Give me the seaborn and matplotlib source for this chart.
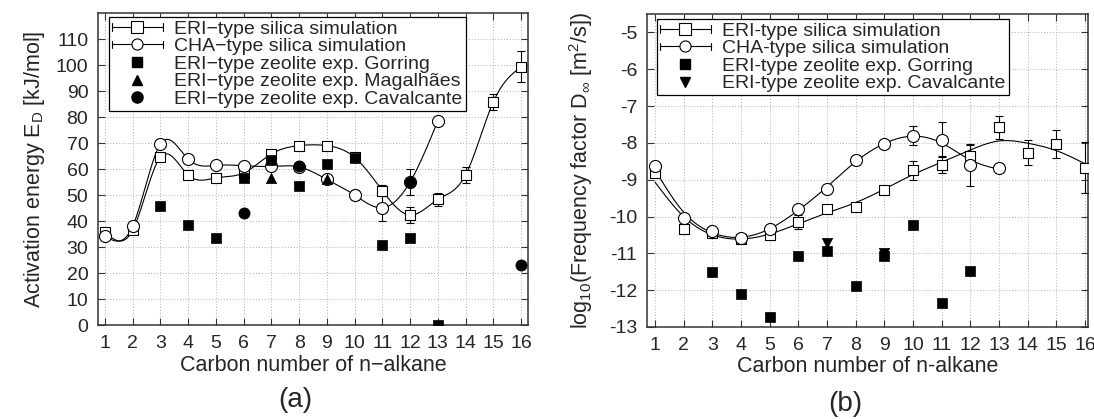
import numpy as np
import matplotlib
matplotlib.use("Agg")
import matplotlib.pyplot as plt
from matplotlib.lines import Line2D
from matplotlib.legend_handler import HandlerBase
import seaborn as sns

# ---------------- data ----------------
carbon = np.arange(1, 17)

# (a) activation energy [kJ/mol]
eri_sim_E = [35.6, 36.5, 64.6, 57.7, 56.6, 58.5, 65.8, 69.0, 69.0, 64.5, 51.7, 42.3, 48.3, 57.7, 85.8, 99.3]
eri_sim_E_err = [0.8, 0.5, 0.8, 0.6, 0.6, 0.6, 0.8, 0.6, 0.6, 1.5, 2.0, 3.0, 2.5, 3.0, 3.0, 6.0]
cha_x = np.arange(1, 14)
cha_sim_E = [34.2, 38.0, 69.6, 63.8, 61.4, 61.3, 61.0, 60.8, 56.0, 50.0, 45.1, 55.0, 78.5]
cha_sim_E_err = [0.5, 0.5, 0.6, 0.6, 0.5, 0.5, 0.5, 0.6, 1.0, 2.0, 5.0, 5.0, 0.6]
gorring_x_a = [3, 4, 5, 6, 7, 8, 9, 10, 11, 12, 13]
gorring_E = [45.8, 38.5, 33.6, 56.6, 63.5, 53.5, 62.0, 64.3, 30.8, 33.6, 0.0]
magalhaes_x = [7, 9]
magalhaes_E = [56.5, 56.0]
cavalcante_x_a = [6, 8, 12, 16]
cavalcante_E = [43.0, 61.0, 55.1, 23.1]

# (b) log10 of frequency factor [m2/s]
eri_sim_D = [-8.81, -10.35, -10.46, -10.6, -10.5, -10.15, -9.8, -9.74, -9.28, -8.74, -8.6, -8.36, -7.58, -8.27, -8.03, -8.67]
eri_sim_D_err = [0.05, 0.04, 0.04, 0.05, 0.12, 0.18, 0.04, 0.04, 0.05, 0.26, 0.23, 0.3, 0.32, 0.34, 0.38, 0.7]
cha_sim_D = [-8.64, -10.03, -10.39, -10.57, -10.35, -9.8, -9.24, -8.47, -8.03, -7.8, -7.91, -8.61, -8.67]
cha_sim_D_err = [0.04, 0.04, 0.04, 0.04, 0.04, 0.05, 0.04, 0.04, 0.04, 0.26, 0.48, 0.57, 0.04]
gorring_x_b = [3, 4, 5, 6, 7, 8, 9, 10, 11, 12]
gorring_D = [-11.52, -12.1, -12.73, -11.07, -10.93, -11.9, -11.07, -10.24, -12.35, -11.48]
cavalcante_x_b = [7, 9]
cavalcante_D = [-10.72, -10.98]


def spline(x, y, lam, xs):
    # natural cubic (smoothing) spline, Reinsch form; lam=0 -> interpolation
    x = np.asarray(x, float)
    y = np.asarray(y, float)
    n = len(x)
    h = np.diff(x)
    Q = np.zeros((n, n - 2))
    R = np.zeros((n - 2, n - 2))
    for j in range(1, n - 1):
        Q[j - 1, j - 1] = 1 / h[j - 1]
        Q[j, j - 1] = -1 / h[j - 1] - 1 / h[j]
        Q[j + 1, j - 1] = 1 / h[j]
        R[j - 1, j - 1] = (h[j - 1] + h[j]) / 3
        if j < n - 2:
            R[j - 1, j] = R[j, j - 1] = h[j] / 6
    K = Q @ np.linalg.solve(R, Q.T)
    g = np.linalg.solve(np.eye(n) + lam * K, y)
    gam = np.concatenate([[0], np.linalg.solve(R, Q.T @ g), [0]])
    i = np.clip(np.searchsorted(x, xs) - 1, 0, n - 2)
    a = x[i + 1] - xs
    b = xs - x[i]
    hi = h[i]
    return (b * g[i + 1] + a * g[i]) / hi - a * b / 6 * ((1 + a / hi) * gam[i] + (1 + b / hi) * gam[i + 1])


class CapLineHandler(HandlerBase):
    # gnuplot style key sample: line with end caps and an open marker
    def __init__(self, marker):
        super().__init__()
        self.marker = marker

    def create_artists(self, legend, orig_handle, xdescent, ydescent, width, height, fontsize, trans):
        x0, x1 = -xdescent, -xdescent + width
        yc = (height - ydescent) / 2
        c = 0.28 * height
        arts = [Line2D([x0, x1], [yc, yc], color='black', lw=0.8),
                Line2D([x0, x0], [yc - c, yc + c], color='black', lw=0.8),
                Line2D([x1, x1], [yc - c, yc + c], color='black', lw=0.8),
                Line2D([(x0 + x1) / 2], [yc], marker=self.marker, ms=8, mfc='white',
                       mec='black', mew=0.8, ls='none')]
        for a in arts:
            a.set_transform(trans)
        return arts


sns.set_theme(style='ticks')
plt.rcParams['font.family'] = ['Liberation Sans', 'DejaVu Sans']
plt.rcParams['mathtext.fontset'] = 'custom'
plt.rcParams['mathtext.rm'] = 'Liberation Sans'
plt.rcParams['mathtext.it'] = 'Liberation Sans'

fig = plt.figure(figsize=(10.94, 4.19), dpi=100)
ax1 = fig.add_axes([0.0896, 0.2243, 0.393, 0.7446])
ax2 = fig.add_axes([0.5914, 0.2196, 0.4031, 0.747])


def draw_sim(ax, x, y, err, lam, marker, size):
    xs = np.linspace(x[0], x[-1], 500)
    sns.lineplot(x=xs, y=spline(x, y, lam, xs), color='black', lw=0.8, ax=ax, zorder=3)
    ax.errorbar(x, y, yerr=err, fmt='none', ecolor='black', elinewidth=0.8, capsize=3, capthick=0.8, zorder=3)
    sns.scatterplot(x=x, y=y, marker=marker, s=size, color='white', edgecolor='black', linewidth=0.8,
                    ax=ax, zorder=4)


def draw_exp(ax, x, y, marker, size):
    sns.scatterplot(x=x, y=y, marker=marker, s=size, color='black', edgecolor='black', linewidth=0.5,
                    ax=ax, zorder=5)


# ---- (a) ----
draw_sim(ax1, carbon, eri_sim_E, eri_sim_E_err, 0.0, 's', 58)
draw_sim(ax1, cha_x, cha_sim_E, cha_sim_E_err, 0.0, 'o', 75)
draw_exp(ax1, gorring_x_a, gorring_E, 's', 48)
draw_exp(ax1, magalhaes_x, magalhaes_E, '^', 55)
draw_exp(ax1, cavalcante_x_a, cavalcante_E, 'o', 65)
ax1.set_ylim(0, 120)
ax1.set_yticks(np.arange(0, 111, 10))
ax1.set_xlim(0.75, 16.25)
ax1.set_ylabel('Activation energy E$_\\mathrm{D}$ [kJ/mol]', fontsize=15.5, labelpad=6)
ax1.set_xlabel('Carbon number of n\u2212alkane', fontsize=15.5, labelpad=2)

# ---- (b) ----
draw_sim(ax2, carbon, eri_sim_D, eri_sim_D_err, 0.45, 's', 58)
draw_sim(ax2, cha_x, cha_sim_D, cha_sim_D_err, 0.12, 'o', 75)
draw_exp(ax2, gorring_x_b, gorring_D, 's', 48)
draw_exp(ax2, cavalcante_x_b, cavalcante_D, 'v', 55)
ax2.set_ylim(-13, -4.5)
ax2.set_yticks(np.arange(-13, -4.9, 1))
ax2.set_yticklabels([str(v) for v in range(-13, -4)])
ax2.set_xlim(0.72, 16.1)
ax2.set_ylabel('log$_{10}$(Frequency factor D$_\\infty$ [m$^2$/s])', fontsize=15.5, labelpad=10)
ax2.set_xlabel('Carbon number of n-alkane', fontsize=15.5, labelpad=2)

for ax in (ax1, ax2):
    ax.set_xticks(carbon)
    ax.grid(True, color='#b0b0b0', ls=(0, (1, 2)), lw=0.7)
    ax.tick_params(direction='in', length=5, width=0.8, top=True, right=True,
                   labelsize=14, pad=7, color='#333333')
    for s in ax.spines.values():
        s.set_color('#333333')
        s.set_linewidth(1.1)

sim_handles = [Line2D([], []), Line2D([], [])]
hmap = {sim_handles[0]: CapLineHandler('s'), sim_handles[1]: CapLineHandler('o')}
sq = Line2D([], [], marker='s', ms=7, color='black', ls='none')
tri = Line2D([], [], marker='^', ms=7.5, color='black', ls='none')
dot = Line2D([], [], marker='o', ms=8, color='black', ls='none')
tri_d = Line2D([], [], marker='v', ms=7.5, color='black', ls='none')

leg_kw = dict(loc='upper left', borderaxespad=0, fancybox=False, framealpha=1, edgecolor='black',
              fontsize=14, handlelength=2.6, handletextpad=0.6, labelspacing=0.0, borderpad=0.15)
l1 = ax1.legend(sim_handles + [sq, tri, dot],
                ['ERI\u2212type silica simulation', 'CHA\u2212type silica simulation',
                 'ERI\u2212type zeolite exp. Gorring', 'ERI\u2212type zeolite exp. Magalh\u00e3es',
                 'ERI\u2212type zeolite exp. Cavalcante'],
                handler_map=hmap, bbox_to_anchor=(0.026, 0.987), **leg_kw)
l2 = ax2.legend(sim_handles + [sq, tri_d],
                ['ERI-type silica simulation', 'CHA-type silica simulation',
                 'ERI-type zeolite exp. Gorring', 'ERI-type zeolite exp. Cavalcante'],
                handler_map=hmap, bbox_to_anchor=(0.023, 0.984), **leg_kw)
for l in (l1, l2):
    l.get_frame().set_linewidth(0.9)
    l.set_zorder(10)

fig.text(0.27, 0.045, '(a)', ha='center', va='center', fontsize=20)
fig.text(0.773, 0.035, '(b)', ha='center', va='center', fontsize=20)

fig.savefig('out.png', dpi=100)
